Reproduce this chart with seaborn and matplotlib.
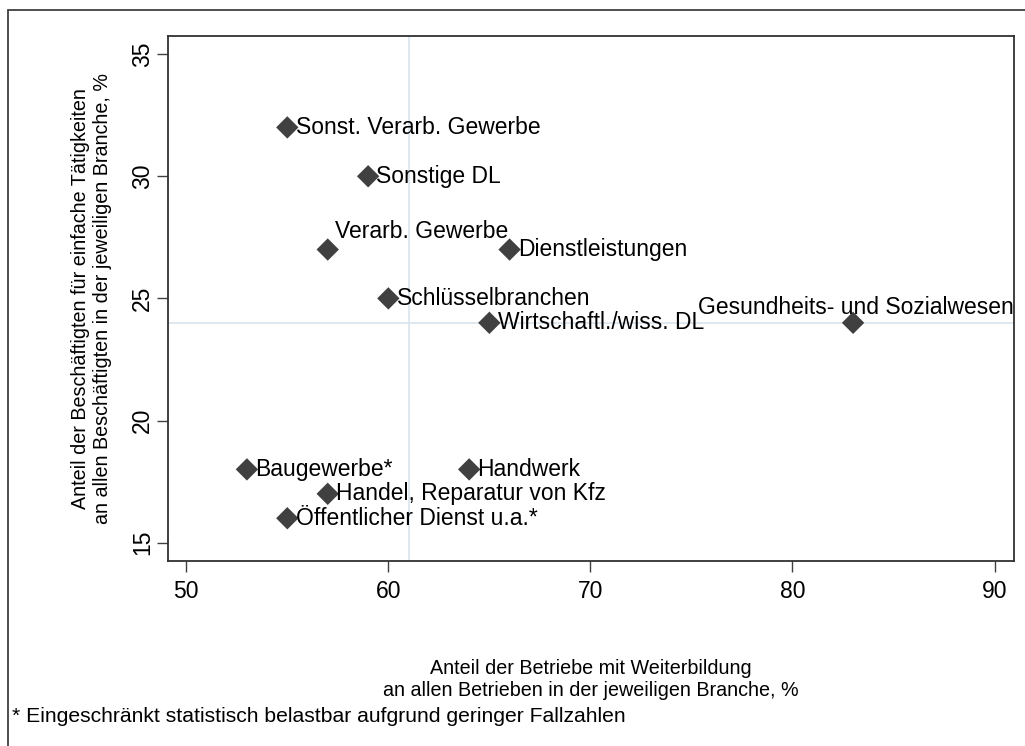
import seaborn as sns
import matplotlib.pyplot as plt
import pandas as pd
from matplotlib.patches import Rectangle

branchen = ["Sonst. Verarb. Gewerbe", "Sonstige DL", "Verarb. Gewerbe", "Dienstleistungen",
            "Schlüsselbranchen", "Wirtschaftl./wiss. DL", "Gesundheits- und Sozialwesen",
            "Baugewerbe*", "Handwerk", "Handel, Reparatur von Kfz", "Öffentlicher Dienst u.a.*"]
weiterbildung = [55, 59, 57, 66, 60, 65, 83, 53, 64, 57, 55]
einfach = [32, 30, 27, 27, 25, 24, 24, 18, 18, 17, 16]
mittel_x = 61
mittel_y = 24

sns.set_style("white")
plt.rcParams["font.family"] = ["Liberation Sans", "DejaVu Sans"]
plt.rcParams["text.color"] = "black"
plt.rcParams["axes.labelcolor"] = "black"
plt.rcParams["xtick.color"] = "black"
plt.rcParams["ytick.color"] = "black"

df = pd.DataFrame({"x": weiterbildung, "y": einfach, "name": branchen})

fig = plt.figure(figsize=(10.25, 7.46), dpi=100)
ax = fig.add_axes([0.164, 0.248, 0.825, 0.704])

ax.axvline(mittel_x, color="#dde6ee", lw=1.3, zorder=0)
ax.axhline(mittel_y, color="#dde6ee", lw=1.3, zorder=0)

sns.scatterplot(data=df, x="x", y="y", marker="D", s=130, color="#404040",
                edgecolor="none", ax=ax, zorder=3)

fs = 16.5
for _, r in df.iterrows():
    if r["name"] == "Verarb. Gewerbe":
        ax.annotate(r["name"], (r["x"], r["y"]), xytext=(5, 5), textcoords="offset points",
                    ha="left", va="bottom", fontsize=fs)
    elif r["name"].startswith("Gesundheits"):
        ax.annotate(r["name"], (r["x"], r["y"]), xytext=(2, 3), textcoords="offset points",
                    ha="center", va="bottom", fontsize=fs)
    else:
        ax.annotate(r["name"], (r["x"], r["y"]), xytext=(6, 0), textcoords="offset points",
                    ha="left", va="center", fontsize=fs)

ax.set_xlim(49.1, 90.95)
ax.set_ylim(14.25, 35.75)
ax.set_xticks([50, 60, 70, 80, 90])
ax.set_yticks([15, 20, 25, 30, 35])
ax.tick_params(axis="both", direction="out", length=8, width=1, color="#404040",
               labelsize=fs, bottom=True, left=True)
ax.tick_params(axis="x", pad=6)
ax.tick_params(axis="y", pad=2)
for lab in ax.get_yticklabels():
    lab.set_rotation(90)
    lab.set_va("center")
for s in ax.spines.values():
    s.set_color("#303030")
    s.set_linewidth(1.3)

ax.set_xlabel("Anteil der Betriebe mit Weiterbildung\nan allen Betrieben in der jeweiligen Branche, %",
              fontsize=14.2, labelpad=40)
ax.set_ylabel("Anteil der Beschäftigten für einfache Tätigkeiten\nan allen Beschäftigten in der jeweiligen Branche, %",
              fontsize=14.2, labelpad=14)

fig.text(12 / 1025, 1 - 716 / 746, "* Eingeschränkt statistisch belastbar aufgrund geringer Fallzahlen",
         fontsize=15.2, ha="left", va="center")

fig.patches.append(Rectangle((8 / 1025, -0.1), 1.2, 1 - 10 / 746 + 0.1, transform=fig.transFigure,
                             fill=False, edgecolor="#404040", lw=1.3, zorder=0))

fig.savefig("out.png", dpi=100)
